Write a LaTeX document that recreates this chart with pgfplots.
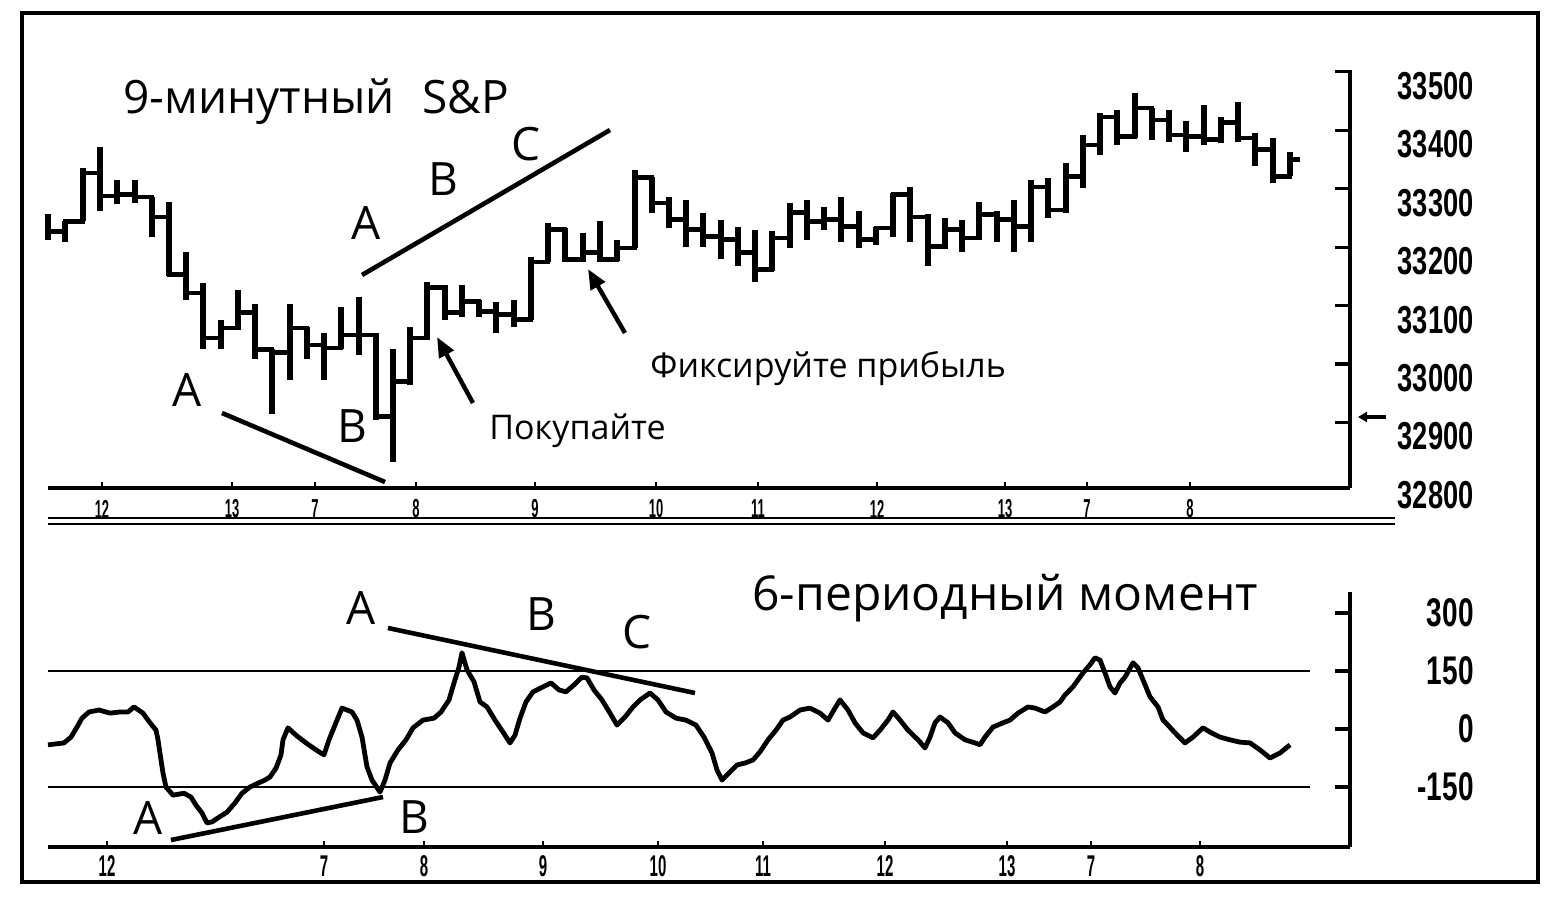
\documentclass[border=0pt]{standalone}
\usepackage{pgfplots}
\pgfplotsset{compat=1.18}
\usepackage{pgfplotstable}
\usetikzlibrary{arrows.meta}
\usepackage{fontspec}
\setmainfont{Open Sans}
\newfontfamily\numfont[FakeStretch=0.7]{Liberation Sans}
\newfontfamily\xnumfont[FakeStretch=0.5]{Liberation Sans}

% bars: x position, low, high, close
\pgfplotstableread{
x l h c
48 33213 33256 33227
65 33209 33244 33244
83 33244 33336 33327
100 33261 33372 33288
117 33273 33315 33290
135 33276 33315 33286
152 33218 33286 33252
169 33150 33278 33153
186 33110 33191 33122
203 33025 33139 33045
221 33025 33076 33062
238 33059 33127 33088
255 33008 33102 33025
272 32914 33025 33020
290 32973 33102 33062
307 33008 33064 33033
324 32973 33054 33028
341 33025 33098 33050
359 33016 33115 33050
376 32905 33054 32910
393 32832 33025 32970
410 32965 33064 33045
427 33042 33141 33131
445 33076 33136 33088
462 33081 33136 33107
479 33081 33110 33090
496 33054 33107 33085
514 33064 33110 33076
531 33076 33184 33175
548 33175 33242 33230
565 33174 33232 33179
583 33174 33225 33191
600 33174 33244 33179
617 33176 33213 33199
635 33199 33332 33319
652 33259 33320 33276
669 33233 33286 33247
686 33201 33281 33230
703 33201 33259 33218
721 33179 33247 33213
738 33167 33235 33191
755 33141 33230 33162
772 33160 33227 33216
790 33199 33276 33259
807 33213 33281 33244
824 33230 33269 33247
841 33209 33285 33235
859 33199 33261 33213
876 33204 33235 33233
893 33218 33293 33290
910 33209 33303 33252
928 33167 33256 33201
945 33196 33250 33230
962 33192 33247 33216
979 33213 33278 33256
997 33208 33261 33247
1014 33192 33281 33235
1031 33208 33315 33303
1048 33250 33319 33264
1066 33259 33344 33321
1083 33302 33392 33375
1100 33358 33430 33423
1117 33375 33435 33389
1135 33387 33464 33438
1152 33384 33438 33418
1169 33380 33435 33392
1186 33362 33415 33389
1204 33375 33444 33384
1221 33379 33423 33413
1238 33380 33449 33387
1255 33338 33396 33367
1273 33310 33387 33321
1290 33321 33363 33350
1300 33350 33350 33350
}\bars

% 6-period momentum
\pgfplotstableread{
x v
48 -41
64 -36
71 -21
77 5
82 28
89 44
99 49
110 41
120 44
128 44
134 57
143 41
150 16
156 -3
158 -28
161 -80
163 -114
166 -150
173 -171
184 -166
191 -176
196 -197
202 -217
207 -243
212 -240
219 -228
227 -215
235 -191
242 -166
250 -150
258 -140
265 -132
270 -124
276 -101
281 -67
283 -28
288 3
296 -16
306 -36
316 -54
324 -67
329 -28
337 23
342 54
352 44
357 23
362 -21
367 -98
372 -132
380 -163
385 -132
390 -88
398 -54
406 -28
413 3
423 23
434 28
441 44
449 75
454 119
459 160
462 197
467 153
474 122
480 70
487 57
495 23
503 -8
510 -36
515 -16
520 28
526 70
533 96
543 109
551 119
559 101
566 96
574 114
582 134
587 132
594 101
602 75
610 41
617 10
625 31
633 57
640 75
650 93
658 75
666 44
676 28
686 23
696 10
704 -21
712 -62
717 -106
722 -132
730 -111
737 -93
745 -88
753 -80
760 -59
768 -28
776 -3
783 23
790 31
800 49
810 54
820 41
828 23
835 54
840 75
848 49
855 16
863 -10
873 -23
880 -3
888 23
893 44
900 23
908 -3
918 -28
925 -49
930 -21
935 16
940 31
948 16
955 -10
965 -28
975 -36
980 -41
985 -21
993 5
1003 16
1010 23
1018 41
1028 57
1035 54
1045 44
1053 57
1060 70
1065 88
1073 109
1078 127
1083 145
1090 166
1095 184
1100 178
1105 145
1110 109
1115 93
1120 119
1125 134
1133 171
1138 158
1143 127
1150 83
1158 57
1163 23
1168 10
1175 -10
1185 -36
1193 -21
1203 3
1210 -8
1220 -21
1230 -28
1240 -34
1250 -36
1260 -54
1270 -75
1280 -62
1290 -41
}\mom

\begin{document}
\begin{tikzpicture}
\begin{scope}[x=0.5pt,y=-0.5pt]
\useasboundingbox (0,0) rectangle (1564,896);
\end{scope}

% ---------- top panel: 9-minute S&P ----------
\begin{axis}[
  at={(24pt,-244pt)}, anchor=south west,
  scale only axis, width=651pt, height=209pt,
  xmin=48, xmax=1350, ymin=32788, ymax=33503,
  axis x line*=bottom, axis y line*=right,
  axis line style={line width=2pt, black},
  tick align=inside,
  major tick length=7.5pt,
  scaled y ticks=false,
  ytick={32900,33000,33100,33200,33300,33400,33500},
  yticklabels={32900,33000,33100,33200,33300,33400,33500},
  extra y ticks={32800},
  extra y tick labels={32800},
  extra y tick style={ytick style={draw=none}},
  yticklabel style={font=\numfont\bfseries\fontsize{19.5}{20}\selectfont, anchor=east, xshift=62pt, yshift=-7pt, inner sep=0pt},
  ytick style={line width=1.6pt, black},
  xtick={102,232,315,416,535,656,758,877,1005,1087,1190},
  xticklabels={12,13,7,8,9,10,11,12,13,7,8},
  xtick style={line width=1.2pt, black, /pgfplots/major tick length=3pt},
  xticklabel style={font=\xnumfont\bfseries\fontsize{13}{14}\selectfont, anchor=center, yshift=-10.5pt, inner sep=0pt},
  clip=false,
]
\addplot[draw=none, forget plot, error bars/.cd, y dir=both, y explicit, error mark=none,
  error bar style={draw=black, line width=2.6pt}]
  table[x=x, y=c, y error plus expr=\thisrow{h}-\thisrow{c}, y error minus expr=\thisrow{c}-\thisrow{l}] {\bars};
\addplot[const plot, line width=2.2pt, black] table[x=x, y=c] {\bars};
\end{axis}

% ---------- bottom panel: 6-period momentum ----------
\begin{axis}[
  at={(24pt,-423.5pt)}, anchor=south west,
  scale only axis, width=651pt, height=127.5pt,
  xmin=48, xmax=1350, ymin=-305, ymax=354,
  axis x line*=bottom, axis y line*=right,
  axis line style={line width=2pt, black},
  tick align=inside,
  major tick length=7.5pt,
  ytick={-150,0,150,300},
  yticklabels={-150,0,150,300},
  yticklabel style={font=\numfont\bfseries\fontsize{20}{21}\selectfont, anchor=east, xshift=62pt, inner sep=0pt},
  ytick style={line width=1.6pt, black},
  xtick={107,324,424,543,658,763,885,1007,1091,1200},
  xticklabels={12,7,8,9,10,11,12,13,7,8},
  xtick style={line width=1.2pt, black, /pgfplots/major tick length=3pt},
  xticklabel style={font=\xnumfont\bfseries\fontsize{15}{16}\selectfont, anchor=center, yshift=-9.5pt, inner sep=0pt},
  clip=false,
]
\addplot[line width=1.3pt, black] coordinates {(48,150) (1310,150)};
\addplot[line width=1.3pt, black] coordinates {(48,-150) (1310,-150)};
\addplot[line width=2.4pt, black, line join=round] table[x=x, y=v] {\mom};
\end{axis}

% ---------- annotations ----------
\begin{scope}[x=0.5pt,y=-0.5pt]
\draw[line width=2pt] (22,13) rectangle (1538,882);
\draw[line width=1.2pt] (48,518) -- (1395,518);
\draw[line width=1.2pt] (48,524) -- (1395,524);

\node[anchor=base west, inner sep=0pt, font=\fontsize{23}{24}\selectfont] at (123,113) {9-минутный\hspace{0.6em}S\&P};
\node[anchor=base west, inner sep=0pt, font=\fontsize{24}{25}\selectfont] at (752,610) {6-периодный момент};
\node[anchor=base west, inner sep=0pt, font=\fontsize{17}{18}\selectfont] at (489,439) {Покупайте};
\node[anchor=base west, inner sep=0pt, font=\fontsize{17}{18}\selectfont] at (650,377) {Фиксируйте прибыль};

\begin{scope}[every node/.style={inner sep=0pt, font=\fontsize{23}{24}\selectfont}]
\node at (187,390) {A};
\node at (352,426) {B};
\node at (366,223) {A};
\node at (443,179) {B};
\node at (526,144) {C};
\node at (361,608) {A};
\node at (541,614) {B};
\node at (637,632) {C};
\node at (148,818) {A};
\node at (414,817) {B};
\end{scope}

\draw[line width=2.3pt] (222,413) -- (385,482);
\draw[line width=2.3pt] (362,275) -- (610,130);
\draw[line width=2.3pt] (388,628) -- (695,693);
\draw[line width=2.3pt] (171,840) -- (383,797);
\draw[line width=2.2pt, -{Triangle[length=10pt, width=8pt]}] (473,403) -- (437,337);
\draw[line width=2.2pt, -{Triangle[length=10pt, width=8pt]}] (625,333) -- (588,269);
\draw[line width=1.8pt, -{Triangle[length=4.5pt, width=5pt]}] (1386,417) -- (1358,417);
\end{scope}
\end{tikzpicture}
\end{document}
